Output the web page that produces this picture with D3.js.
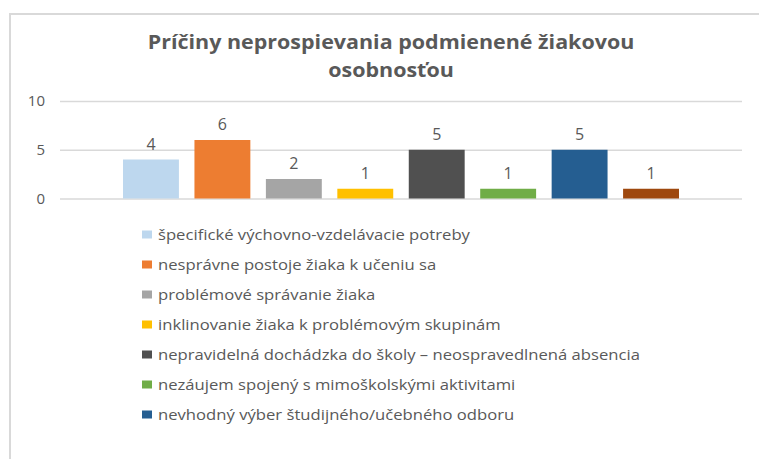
<!DOCTYPE html>
<html>
<head>
<meta charset="utf-8">
<script src="https://cdn.jsdelivr.net/npm/d3@7"></script>
<style>
  body { margin: 0; background: #fff; }
  svg { display: block; font-family: "Open Sans", "DejaVu Sans", sans-serif; }
</style>
</head>
<body>
<script>
// chart data
const categories = [
  'špecifické výchovno-vzdelávacie potreby',
  'nesprávne postoje žiaka k učeniu sa',
  'problémové správanie žiaka',
  'inklinovanie žiaka k problémovým skupinám',
  'nepravidelná dochádzka do školy – neospravedlnená absencia',
  'nezáujem spojený s mimoškolskými aktivitami',
  'nevhodný výber študijného/učebného odboru',
  'iné'
];
const values = [4, 6, 2, 1, 5, 1, 5, 1];
const colors = ['#bdd7ee', '#ed7d31', '#a5a5a5', '#ffc000', '#505050', '#70ad47', '#255e91', '#9e480e'];
const yTicks = [0, 5, 10];
const titleLines = ['Príčiny neprospievania podmienené žiakovou', 'osobnosťou'];

const width = 759, height = 459;

const svg = d3.select('body').append('svg')
  .attr('width', width)
  .attr('height', height);

// chart frame (cut off on right / bottom like the screenshot)
svg.append('path')
  .attr('d', `M10,${height} V14 H${width}`)
  .attr('fill', 'none')
  .attr('stroke', '#d9d9d9')
  .attr('stroke-width', 2);

// title (the screenshot is slightly stretched horizontally)
svg.append('text')
  .attr('transform', 'translate(391,0) scale(1.13,1)')
  .attr('text-anchor', 'middle')
  .attr('fill', '#595959')
  .attr('font-size', 19)
  .attr('font-weight', 'bold')
  .selectAll('tspan')
  .data(titleLines)
  .enter()
    .append('tspan')
    .attr('x', 0)
    .attr('y', (d, i) => 49 + i * 28)
    .text(d => d);

// scales
const plot = { left: 60, right: 742, top: 101, bottom: 198.5 };

const y = d3.scaleLinear()
  .domain([0, 10])
  .range([plot.bottom, plot.top]);

const x = d3.scaleBand()
  .domain(d3.range(values.length))
  .range([plot.left, plot.right])
  .paddingInner(0.2175)
  .paddingOuter(0.882);

// gridlines + y labels
const yAxis = d3.axisLeft(y)
  .tickValues(yTicks)
  .tickSize(-(plot.right - plot.left))
  .tickPadding(15);

const gy = svg.append('g')
  .attr('transform', `translate(${plot.left},0)`)
  .call(yAxis);
gy.select('.domain').remove();
gy.selectAll('.tick line')
  .attr('stroke', '#d9d9d9')
  .attr('stroke-width', 1.5);
gy.selectAll('.tick text')
  .attr('fill', '#595959')
  .attr('font-size', 15)
  .attr('font-family', '"Open Sans", sans-serif');

// bars
svg.selectAll('rect.bar')
    .data(values)
  .enter()
    .append('rect')
    .attr('class', 'bar')
    .attr('x', (d, i) => x(i))
    .attr('y', d => y(d))
    .attr('width', x.bandwidth())
    .attr('height', d => y(0) - y(d))
    .attr('fill', (d, i) => colors[i]);

// value labels
svg.selectAll('text.val')
    .data(values)
  .enter()
    .append('text')
    .attr('class', 'val')
    .attr('x', (d, i) => x(i) + x.bandwidth() / 2)
    .attr('y', d => y(d) - 10)
    .attr('text-anchor', 'middle')
    .attr('fill', '#595959')
    .attr('font-size', 16)
    .text(d => d);

// legend (only the first seven entries are visible in the reference)
const legend = svg.selectAll('g.legend')
    .data(categories.slice(0, 7))
  .enter()
    .append('g')
    .attr('class', 'legend')
    .attr('transform', (d, i) => `translate(142,${234.5 + i * 30})`);

legend.append('rect')
  .attr('x', 0)
  .attr('y', -4)
  .attr('width', 10)
  .attr('height', 8)
  .attr('fill', (d, i) => colors[i]);

legend.append('text')
  .attr('transform', 'translate(16,5) scale(1.19,1)')
  .attr('fill', '#595959')
  .attr('font-size', 14)
  .text(d => d);
</script>
</body>
</html>
